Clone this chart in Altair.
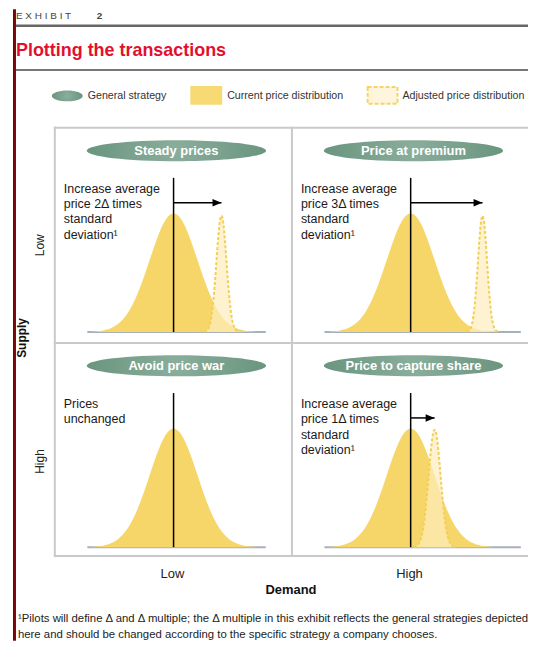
import altair as alt
import numpy as np
import pandas as pd

# ------------------------------------------------------------------ values
exhibit_label = "E X H I B I T"
exhibit_number = "2"
title_text = "Plotting the transactions"
legend_labels = ["General strategy", "Current price distribution", "Adjusted price distribution"]

levels = ["Low", "High"]
supply_title = "Supply"
demand_title = "Demand"
strategies = ["Steady prices", "Price at premium", "Avoid price war", "Price to capture share"]
supply_level = ["Low", "Low", "High", "High"]
demand_level = ["Low", "High", "Low", "High"]
notes = [
    "Increase average\nprice 2Δ times\nstandard\ndeviation¹",
    "Increase average\nprice 3Δ times\nstandard\ndeviation¹",
    "Prices\nunchanged",
    "Increase average\nprice 1Δ times\nstandard\ndeviation¹",
]
# move of the average price, in standard deviations of the current distribution
price_shift = [2, 3, 0, 1]
# spread and peak of the adjusted distribution relative to the current one (0 = none)
adjusted_spread = [0.21, 0.19, 0.0, 0.25]
adjusted_peak = [0.98, 0.98, 0.0, 0.99]
# extent of the grey price line under each column (standard deviations)
baseline_span = {"Low": [-3.6, 3.85], "High": [-3.6, 4.6]}
footnote_lines = [
    "¹Pilots will define Δ and Δ multiple; the Δ multiple in this exhibit reflects the general strategies depicted",
    "  here and should be changed according to the specific strategy a company chooses.",
]

# ------------------------------------------------------------------ table
rows = []
grid = np.linspace(-3.4, 3.4, 69)
unit = np.linspace(-3.5, 3.5, 57)
for s, sup, dem, note, shift, spread, peak in zip(
    strategies, supply_level, demand_level, notes, price_shift, adjusted_spread, adjusted_peak
):
    key = dict(supply=sup, demand=dem)
    lo, hi = baseline_span[dem]
    rows.append({**key, "layer": "base", "x": lo, "x2": hi, "y": 0.0})
    for g in grid:  # current price distribution (normal shape, peak 1)
        rows.append({**key, "layer": "current", "x": float(g), "y": float(np.exp(-g * g / 2))})
    if spread > 0:  # adjusted price distribution
        for u in unit:
            rows.append({**key, "layer": "adjusted", "x": float(shift + spread * u),
                         "y": float(peak * np.exp(-u * u / 2))})
    rows.append({**key, "layer": "panel", "x": 0.0, "x2": float(shift), "y": 0.0,
                 "strategy": s, "note": note, "shift": float(shift)})
df = pd.DataFrame(rows)

# ------------------------------------------------------------------ styles
FONT = "Liberation Sans, Arial, sans-serif"
YELLOW = "#F6D668"
PALE = "#FFEDBD"
DASH = "#F2CF55"
GRID = "#C9C9C9"
RED_BAND = "#7A0707"
GREEN_GRAD = alt.RadialGradient(
    gradient="radial",
    stops=[alt.GradientStop(color="#8AAE9C", offset=0), alt.GradientStop(color="#6A957F", offset=1)],
)
ELLIPSE = "M-1,0 A1,0.117 0 1,1 1,0 A1,0.117 0 1,1 -1,0 Z"
ELLIPSE_SMALL = "M-1,0 A1,0.35 0 1,1 1,0 A1,0.35 0 1,1 -1,0 Z"
HEAD = "M0,0 L-1,-0.42 L-1,0.42 Z"
W, H = 238, 216          # one panel
FULL = 2 * W             # panel grid width
HEAD_H = 118
GRID_BOTTOM = HEAD_H + 2 * H
LINE_TOP = 1.3
ARROW_Y = 1.09

xs = alt.Scale(domain=[-5.0, 4.9], nice=False, zero=False)
ys = alt.Scale(domain=[-0.084, 1.731], nice=False, zero=False)


def X(f="x"):
    return alt.X(f"{f}:Q", scale=xs, axis=None)


def Y(f="y"):
    return alt.Y(f"{f}:Q", scale=ys, axis=None)


def only(layer, extra=""):
    return alt.Chart().transform_filter(f"datum.layer == '{layer}'" + extra)


border_left = only("panel").mark_rule(color=GRID, strokeWidth=2).encode(
    x=alt.value(1), y=alt.value(0), y2=alt.value(H))
border_top = only("panel").mark_rule(color=GRID, strokeWidth=2).encode(
    x=alt.value(0), x2=alt.value(W), y=alt.value(1))
border_bottom = only("panel", " && datum.supply == 'High'").mark_rule(color=GRID, strokeWidth=2).encode(
    x=alt.value(0), x2=alt.value(W), y=alt.value(H - 1))
baseline = only("base").mark_rule(color="#A7B1BA", strokeWidth=2).encode(
    x=X(), x2="x2:Q", y=Y())
current = only("current").mark_area(color=YELLOW, interpolate="monotone").encode(x=X(), y=Y())
adjusted = only("adjusted").mark_area(color=PALE, opacity=0.7, interpolate="monotone").encode(x=X(), y=Y())
adjusted_edge = only("adjusted").mark_line(
    color=DASH, strokeWidth=2, strokeDash=[3, 2], interpolate="monotone").encode(x=X(), y=Y())
mean_line = only("panel").mark_rule(color="black", strokeWidth=1.5).encode(
    x=X(), y=Y(), y2=alt.datum(LINE_TOP))
shaft = only("panel", " && datum.shift > 0").mark_rule(color="black", strokeWidth=1.5).encode(
    x=X(), x2="x2:Q", y=alt.datum(ARROW_Y))
head = only("panel", " && datum.shift > 0").mark_point(
    shape=HEAD, size=324, filled=True, color="black", opacity=1).encode(
    x=X("shift"), y=alt.datum(ARROW_Y))
ellipse = only("panel").mark_point(
    shape=ELLIPSE, size=32400, filled=True, fill=GREEN_GRAD, opacity=1, strokeWidth=0).encode(
    x=alt.value(123), y=alt.value(24))
ellipse_text = only("panel").mark_text(
    font=FONT, fontSize=13, fontWeight="bold", color="white").encode(
    x=alt.value(123), y=alt.value(24), text="strategy:N")
note_text = only("panel").mark_text(
    font=FONT, fontSize=12.5, lineHeight=15.5, align="left", baseline="top", lineBreak="\n",
    color="#1a1a1a").encode(x=alt.value(10), y=alt.value(56), text="note:N")

panels = alt.layer(
    border_left, border_top, border_bottom, baseline, current, adjusted,
    adjusted_edge, mean_line, shaft, head, ellipse, ellipse_text, note_text, data=df,
).properties(width=W, height=H).facet(
    row=alt.Row("supply:N", sort=levels, title=None, header=alt.Header(labels=False)),
    column=alt.Column("demand:N", sort=levels, title=None, header=alt.Header(labels=False)),
    spacing=0,
    bounds="flush",
)

# ------------------------------------------------------------------ frame: header, axis labels, footnote
# (x measured from the panel grid's left edge, y from the top of the exhibit)
one = pd.DataFrame({"k": [0]})
frame = [
    alt.Chart().mark_rule(strokeOpacity=0).encode(x=alt.value(-46), y=alt.value(0), y2=alt.value(5)),
    alt.Chart().mark_rect(color=RED_BAND).encode(
        x=alt.value(-41), x2=alt.value(-38), y=alt.value(0), y2=alt.value(634)),
    alt.Chart().mark_text(text=exhibit_label, font=FONT, fontSize=10, align="left",
                          baseline="alphabetic", color="#444").encode(x=alt.value(-38), y=alt.value(10)),
    alt.Chart().mark_text(text=exhibit_number, font=FONT, fontSize=10, fontWeight="bold", align="left",
                          baseline="alphabetic", color="#444").encode(x=alt.value(43), y=alt.value(10)),
    alt.Chart().mark_rule(color="#666", strokeWidth=2.5).encode(
        x=alt.value(-38), x2=alt.value(FULL), y=alt.value(16.5)),
    alt.Chart().mark_text(text=title_text, font=FONT, fontSize=18, fontWeight="bold", align="left",
                          baseline="alphabetic", color="#E3102D").encode(x=alt.value(-38), y=alt.value(47)),
    alt.Chart().mark_rule(color="#777", strokeWidth=2).encode(
        x=alt.value(-38), x2=alt.value(FULL), y=alt.value(61)),
    alt.Chart().mark_point(shape=ELLIPSE_SMALL, size=961, filled=True, fill=GREEN_GRAD, opacity=1,
                           strokeWidth=0).encode(x=alt.value(13.5), y=alt.value(87)),
    alt.Chart().mark_rect(color="#F8DA74").encode(
        x=alt.value(137), x2=alt.value(169), y=alt.value(77), y2=alt.value(96)),
    alt.Chart().mark_rect(fill="#FEF5DC", stroke="#F5D466", strokeWidth=2, strokeDash=[4, 2]).encode(
        x=alt.value(315), x2=alt.value(345), y=alt.value(78), y2=alt.value(95)),
    # supply (rows): title and level labels left of the panel grid
    alt.Chart().mark_text(text=supply_title, font=FONT, fontSize=12, fontWeight="bold", angle=270,
                          color="#111").encode(x=alt.value(-32), y=alt.value(330)),
    alt.Chart().mark_text(text=levels[0], font=FONT, fontSize=12, angle=270, color="#222").encode(
        x=alt.value(-14), y=alt.value(237)),
    alt.Chart().mark_text(text=levels[1], font=FONT, fontSize=12, angle=270, color="#222").encode(
        x=alt.value(-14), y=alt.value(454)),
    # demand (columns): level labels and title below the panel grid
    alt.Chart().mark_text(text=levels[0], font=FONT, fontSize=13, color="#222").encode(
        x=alt.value(W / 2), y=alt.value(GRID_BOTTOM + 17)),
    alt.Chart().mark_text(text=levels[1], font=FONT, fontSize=13, color="#222").encode(
        x=alt.value(W + W / 2), y=alt.value(GRID_BOTTOM + 17)),
    alt.Chart().mark_text(text=demand_title, font=FONT, fontSize=13, fontWeight="bold", color="#111").encode(
        x=alt.value(W), y=alt.value(GRID_BOTTOM + 33)),
    alt.Chart().mark_text(
        text="\n".join(footnote_lines), lineBreak="\n", font=FONT, fontSize=11.4, lineHeight=16,
        align="left", baseline="top", color="#222",
    ).encode(x=alt.value(-36), y=alt.value(GRID_BOTTOM + 56)),
]
for lx, lab in zip([34, 174, 350], legend_labels):
    frame.append(alt.Chart().mark_text(text=lab, font=FONT, fontSize=10.7, align="left", baseline="middle",
                                       color="#333", clip=True).encode(x=alt.value(lx), y=alt.value(87)))
header = alt.layer(*frame, data=one).properties(width=FULL, height=HEAD_H)

chart = alt.vconcat(
    header, panels, spacing=0, bounds="flush", padding=0, background="white"
).configure_view(stroke=None)

chart.save("out.html", embed_options={"renderer": "svg", "actions": False})
